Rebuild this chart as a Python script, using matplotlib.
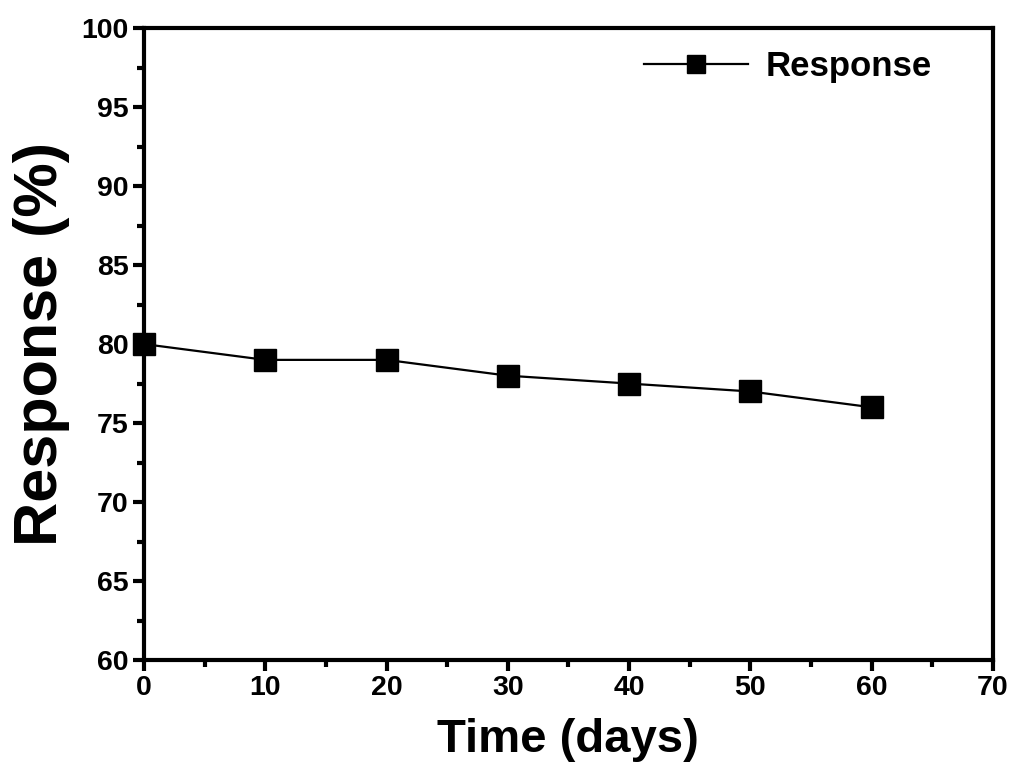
import matplotlib
matplotlib.use("Agg")
import matplotlib.pyplot as plt
from matplotlib.ticker import MultipleLocator

days = [0, 10, 20, 30, 40, 50, 60]
response = [80, 79, 79, 78, 77.5, 77, 76]

plt.rcParams['font.family'] = ['Liberation Sans', 'DejaVu Sans']
plt.rcParams['font.weight'] = 'bold'

fig = plt.figure(figsize=(10.24, 7.82), dpi=100)
ax = fig.add_axes([0.1406, 0.156, 0.829, 0.808])

ax.plot(days, response, color='black', linewidth=1.6, marker='s',
        markersize=16, markerfacecolor='black', markeredgecolor='black',
        label='Response', clip_on=False, zorder=5)

ax.set_xlim(0, 70)
ax.set_ylim(60, 100)
ax.xaxis.set_major_locator(MultipleLocator(10))
ax.xaxis.set_minor_locator(MultipleLocator(5))
ax.yaxis.set_major_locator(MultipleLocator(5))
ax.yaxis.set_minor_locator(MultipleLocator(2.5))

for s in ax.spines.values():
    s.set_linewidth(3)

ax.tick_params(axis='both', which='major', direction='out', length=8, width=3,
               labelsize=20.5, pad=3, top=False, right=False)
ax.tick_params(axis='both', which='minor', direction='out', length=5, width=3,
               top=False, right=False)
for lbl in ax.get_xticklabels() + ax.get_yticklabels():
    lbl.set_fontweight('bold')

ax.set_xlabel('Time (days)', fontsize=34, fontweight='bold', labelpad=12)
ax.set_ylabel('Response (%)', fontsize=44, fontweight='bold', labelpad=8)

leg = ax.legend(loc='upper right', frameon=False, fontsize=25,
                handlelength=3.0, handletextpad=0.5, markerscale=0.8,
                bbox_to_anchor=(0.965, 1.015))
for t in leg.get_texts():
    t.set_fontweight('bold')

fig.savefig('out.png', dpi=100)
